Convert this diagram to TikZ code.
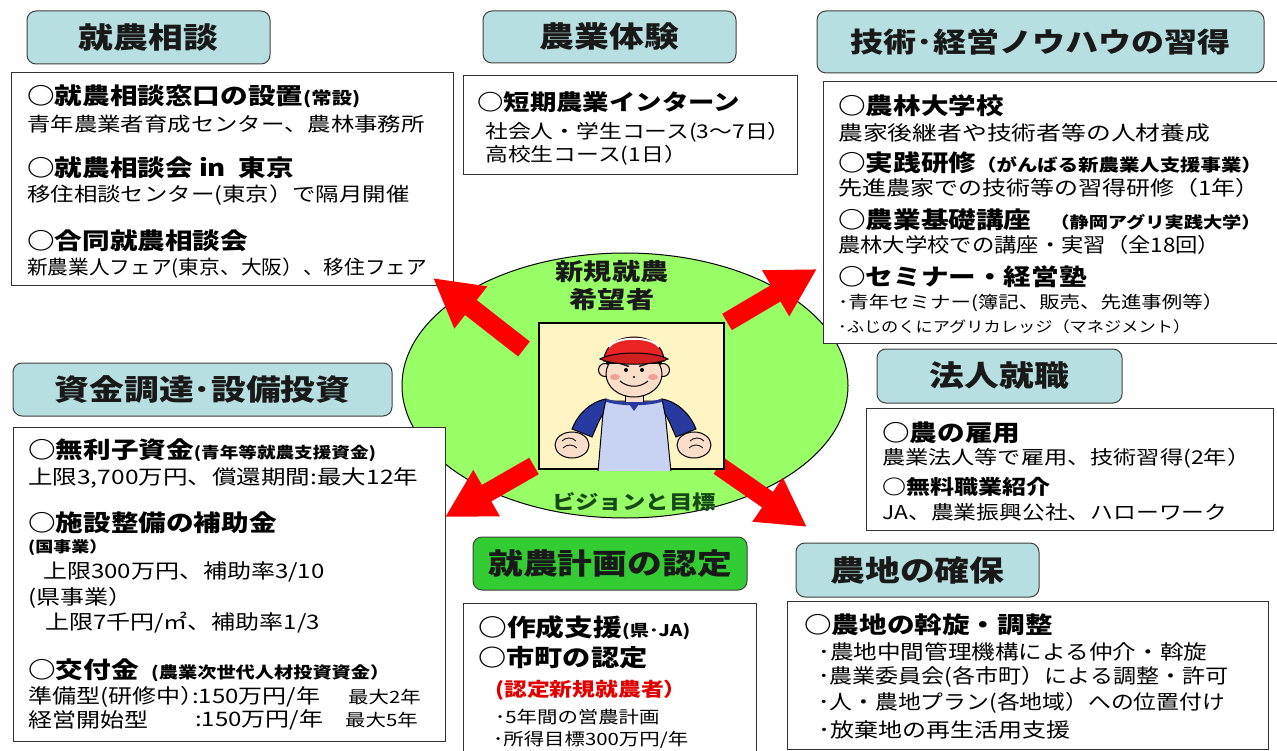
\documentclass[tikz,border=0pt]{standalone}
\usepackage{fontspec}
\usepackage{graphicx}
\setmainfont{Noto Sans CJK JP}[FakeStretch=1.2, BoldFont={Noto Sans CJK JP Black}]
\usetikzlibrary{arrows.meta,shapes.geometric}
\definecolor{headteal}{RGB}{183,222,224}
\definecolor{planGreen}{RGB}{51,204,51}
\definecolor{hopeGreen}{RGB}{153,255,102}
\definecolor{visionGreen}{RGB}{22,72,22}
\definecolor{picYellow}{RGB}{255,245,196}
\definecolor{arrowRed}{RGB}{255,0,0}
\definecolor{noteRed}{RGB}{225,0,0}
\definecolor{skin}{RGB}{250,222,202}
\definecolor{shirtLight}{RGB}{200,210,242}
\definecolor{shirtBlue}{RGB}{40,58,160}
\definecolor{capRed}{RGB}{235,35,35}
\definecolor{cheek}{RGB}{240,160,150}
\newcommand\fsz[1]{\fontsize{#1pt}{#1pt}\selectfont}
% squeeze a line horizontally to a given width, keeping its height
\newcommand\fitto[2]{\resizebox{#1}{\height}{#2}}
\begin{document}
\begin{tikzpicture}[x=1pt,y=-1pt,
  headbox/.style={draw=black!75, line width=1pt, rounded corners=9pt, fill=headteal,
    inner sep=0pt, font=\fsz{29}\bfseries, text=black!90},
  infobox/.style={draw=black!80, line width=1pt, fill=white, inner sep=0pt},
  ln/.style={anchor=west, inner sep=0pt, font=\fsz{20}},
  lead/.style={anchor=west, inner sep=0pt, font=\fsz{23}\bfseries},
  bigarrow/.style={draw=arrowRed, line width=19pt,
    -{Triangle[width=50pt,length=48pt]}, shorten <=0pt},
  outline/.style={draw=black, line width=1pt}]
\useasboundingbox (0,0) rectangle (1277,751);

% central ellipse with the aspiring farmer
\node[ellipse, draw=black, line width=1pt, fill=hopeGreen, inner sep=0pt,
  minimum width=446pt, minimum height=265pt] (hope) at (625,385.5) {};
\node[inner sep=0pt, font=\fsz{23.5}\bfseries, text=black!90] (who1) at (612,272) {新規就農};
\node[inner sep=0pt, font=\fsz{23.5}\bfseries, text=black!90] (who2) at (612,300) {希望者};
\node[inner sep=0pt, font=\fsz{19.5}\bfseries, text=visionGreen] (vision) at (634,502) {ビジョンと目標};

% ---------------- consultation ----------------
\node[headbox, minimum width=243pt, minimum height=53pt] (hA) at (148.5,37.5) {就農相談};
\node[infobox, minimum width=442pt, minimum height=213pt] (bA) at (232,179.5) {};
\node[lead] (a1) at (27,96) {○就農相談窓口の設置{\fsz{17}(常設)}};
\node[ln, font=\fsz{19.5}] (a2) at (27,124) {青年農業者育成センター、農林事務所};
\node[lead] (a3) at (27,168) {○就農相談会 in\ \ 東京};
\node[ln, font=\fsz{19.5}] (a4) at (27,195) {移住相談センター(東京）で隔月開催};
\node[lead] (a5) at (27,241) {○合同就農相談会};
\node[ln, font=\fsz{19.5}] (a6) at (27,268) {\fitto{400pt}{新農業人フェア(東京、大阪）、移住フェア}};

% ---------------- farm experience ----------------
\node[headbox, minimum width=253pt, minimum height=52pt] (hB) at (609.5,37) {農業体験};
\node[infobox, minimum width=334pt, minimum height=99pt] (bB) at (630,125.5) {};
\node[lead, font=\fsz{22}\bfseries] (b1) at (477,102) {○短期農業インターン};
\node[ln, font=\fsz{19}] (b2) at (485,132) {社会人・学生コース(3～7日）};
\node[ln, font=\fsz{19}] (b3) at (485,155) {高校生コース(1日）};

% ---------------- skills and management know-how ----------------
\node[headbox, minimum width=447pt, minimum height=62pt, font=\fsz{27.5}\bfseries] (hC) at (1040.5,42) {技術･経営ノウハウの習得};
\node[infobox, minimum width=459pt, minimum height=261pt] (bC) at (1052.5,212.5) {};
\node[lead] (c1) at (838,106) {○農林大学校};
\node[ln] (c2) at (838,133) {\fitto{372pt}{農家後継者や技術者等の人材養成}};
\node[lead] (c3) at (838,163) {○実践研修{\fsz{17}（がんばる新農業人支援事業）}};
\node[ln] (c4) at (838,188) {先進農家での技術等の習得研修（1年）};
\node[lead] (c5) at (838,220) {○農業基礎講座\ \ \ {\fsz{16}（静岡アグリ実践大学）}};
\node[ln] (c6) at (838,245) {\fitto{382pt}{農林大学校での講座・実習（全18回）}};
\node[lead] (c7) at (838,277) {○セミナー・経営塾};
\node[ln, font=\fsz{17}] (c8) at (838,303) {\fitto{385pt}{･青年セミナー(簿記、販売、先進事例等）}};
\node[ln, font=\fsz{15}] (c9) at (838,327) {\fitto{352pt}{･ふじのくにアグリカレッジ（マネジメント）}};

% ---------------- funding and equipment ----------------
\node[headbox, minimum width=379pt, minimum height=53pt] (hD) at (202.5,389.5) {資金調達･設備投資};
\node[infobox, minimum width=432pt, minimum height=314pt] (bD) at (229,584) {};
\node[lead] (d1) at (28,450) {○無利子資金{\fsz{15.5}(青年等就農支援資金)}};
\node[ln] (d2) at (28,478) {\fitto{390pt}{上限3,700万円、償還期間:最大12年}};
\node[lead] (d3) at (28,523) {○施設整備の補助金};
\node[ln, font=\fsz{15}\bfseries] (d4) at (28,548) {(国事業）};
\node[ln] (d5) at (43,572) {上限300万円、補助率3/10};
\node[ln] (d6) at (28,598) {(県事業）};
\node[ln] (d7) at (45,623) {上限7千円/㎡、補助率1/3};
\node[lead] (d8) at (28,670) {○交付金\ \ {\fsz{16}(農業次世代人材投資資金）}};
\node[ln] (d9) at (28,697) {準備型(研修中）};
\node[ln] (d9b) at (192,697) {:150万円/年};
\node[ln, font=\fsz{17}] (d9c) at (348,697) {最大2年};
\node[ln] (d10) at (28,720) {経営開始型};
\node[ln] (d10b) at (195,720) {:150万円/年};
\node[ln, font=\fsz{17}] (d10c) at (345,720) {最大5年};

% ---------------- farming plan certification ----------------
\node[headbox, fill=planGreen, minimum width=274pt, minimum height=53pt] (hE) at (610,563.5) {就農計画の認定};
\node[infobox, minimum width=293pt, minimum height=157pt] (bE) at (609.5,681.5) {};
\node[lead, font=\fsz{24}\bfseries] (e1) at (478,628) {○作成支援{\fsz{16}(県･JA)}};
\node[lead, font=\fsz{23.5}\bfseries] (e2) at (478,658) {○市町の認定};
\node[ln, font=\fsz{19}\bfseries, text=noteRed] (e3) at (495,690) {(認定新規就農者）};
\node[ln, font=\fsz{17}] (e4) at (495,717) {･5年間の営農計画};
\node[ln, font=\fsz{17}] (e5) at (493,740) {･所得目標300万円/年};

% ---------------- corporate employment ----------------
\node[headbox, minimum width=245pt, minimum height=54pt] (hF) at (999.5,376) {法人就職};
\node[infobox, minimum width=407pt, minimum height=122pt] (bF) at (1069.5,469) {};
\node[lead] (f1) at (882,433) {○農の雇用};
\node[ln, font=\fsz{19}] (f2) at (882,458) {\fitto{368pt}{農業法人等で雇用、技術習得(2年）}};
\node[lead, font=\fsz{20}\bfseries] (f3) at (882,487) {○無料職業紹介};
\node[ln, font=\fsz{19}] (f4) at (882,512) {JA、農業振興公社、ハローワーク};

% ---------------- securing farmland ----------------
\node[headbox, minimum width=243pt, minimum height=54pt] (hG) at (917.5,570) {農地の確保};
\node[infobox, minimum width=481pt, minimum height=148pt] (bG) at (1027.5,675) {};
\node[lead] (g1) at (804,625) {○農地の斡旋・調整};
\node[ln] (g2) at (818,652) {\fitto{389pt}{･農地中間管理機構による仲介・斡旋}};
\node[ln] (g3) at (818,677) {\fitto{410pt}{･農業委員会(各市町）による調整・許可}};
\node[ln] (g4) at (818,703) {\fitto{407pt}{･人・農地プラン(各地域）への位置付け}};
\node[ln] (g5) at (818,730) {･放棄地の再生活用支援};

% ---------------- red arrows out of the centre ----------------
\coordinate (tailUL) at (524,349);  \coordinate (tipUL) at (433,278);
\coordinate (tailUR) at (727,322);  \coordinate (tipUR) at (817,269);
\coordinate (tailLL) at (534,466);  \coordinate (tipLL) at (445,517);
\coordinate (tailLR) at (719,466);  \coordinate (tipLR) at (807,527);
\draw[bigarrow] (tailUL) -- (tipUL);
\draw[bigarrow] (tailUR) -- (tipUR);
\draw[bigarrow] (tailLL) -- (tipLL);
\draw[bigarrow] (tailLR) -- (tipLR);

% ---------------- portrait of the young farmer ----------------
\node[draw=black, line width=2.2pt, fill=picYellow, inner sep=0pt,
  minimum width=185pt, minimum height=146pt] (pic) at (631.5,396) {};
\begin{scope}
  \clip (pic.south west) rectangle (pic.north east);
  % torso
  \draw[outline, fill=shirtLight] (604,401) -- (598,472) -- (671,472) -- (664,401) -- cycle;
  % raglan sleeves
  \draw[outline, fill=shirtBlue] (606,399) .. controls (590,402) and (578,414) .. (572,429)
     -- (592,437) .. controls (596,428) and (599,420) .. (603,414) -- cycle;
  \draw[outline, fill=shirtBlue] (662,399) .. controls (678,402) and (690,414) .. (696,429)
     -- (676,437) .. controls (672,428) and (669,420) .. (665,414) -- cycle;
  % neck and collar
  \draw[outline, fill=skin] (625,390) -- (625,402) -- (643,402) -- (643,390);
  \draw[line width=3pt, shirtBlue] (606,400) .. controls (618,405) and (650,405) .. (662,400);
  \fill[shirtBlue] (629,404) -- (639,404) -- (634,411) -- cycle;
  % fists
  \draw[outline, fill=skin] (572,445) ellipse [x radius=17, y radius=13];
  \draw[outline, fill=skin] (694,445) ellipse [x radius=17, y radius=13];
  \draw[line width=0.8pt] (562,441) .. controls (566,437) and (572,437) .. (576,441);
  \draw[line width=0.8pt] (563,448) .. controls (567,444) and (573,444) .. (577,448);
  \draw[line width=0.8pt] (704,441) .. controls (700,437) and (694,437) .. (690,441);
  \draw[line width=0.8pt] (703,448) .. controls (699,444) and (693,444) .. (689,448);
  % ears and face
  \draw[outline, fill=skin] (605,370) circle (6.5);
  \draw[outline, fill=skin] (663,370) circle (6.5);
  \draw[outline, fill=skin] (634,374) ellipse [x radius=28, y radius=23];
  \fill[black] (606,358) rectangle (662,364);
  % cap
  \draw[outline, fill=capRed] (604,361) .. controls (604,329) and (664,329) .. (664,361) -- cycle;
  \draw[white, line width=2pt] (609,347) .. controls (616,336) and (652,336) .. (659,347);
  \draw[outline, fill=capRed!88!black] (600,359) .. controls (615,351) and (653,351) .. (668,359)
     .. controls (653,366) and (615,366) .. (600,359) -- cycle;
  % cheeks
  \fill[cheek] (615,377) ellipse [x radius=5, y radius=3];
  \fill[cheek] (653,377) ellipse [x radius=5, y radius=3];
  % brows, eyes, nose, mouth
  \draw[line width=1.2pt] (620,363.5) -- (629,366.5);
  \draw[line width=1.2pt] (648,363.5) -- (639,366.5);
  \fill[black] (626,370) circle (2);
  \fill[black] (642,370) circle (2);
  \fill[black] (634,377) circle (1.1);
  \draw[line width=1pt] (620,381) .. controls (628,388) and (640,388) .. (648,381);
\end{scope}
\end{tikzpicture}
\end{document}
